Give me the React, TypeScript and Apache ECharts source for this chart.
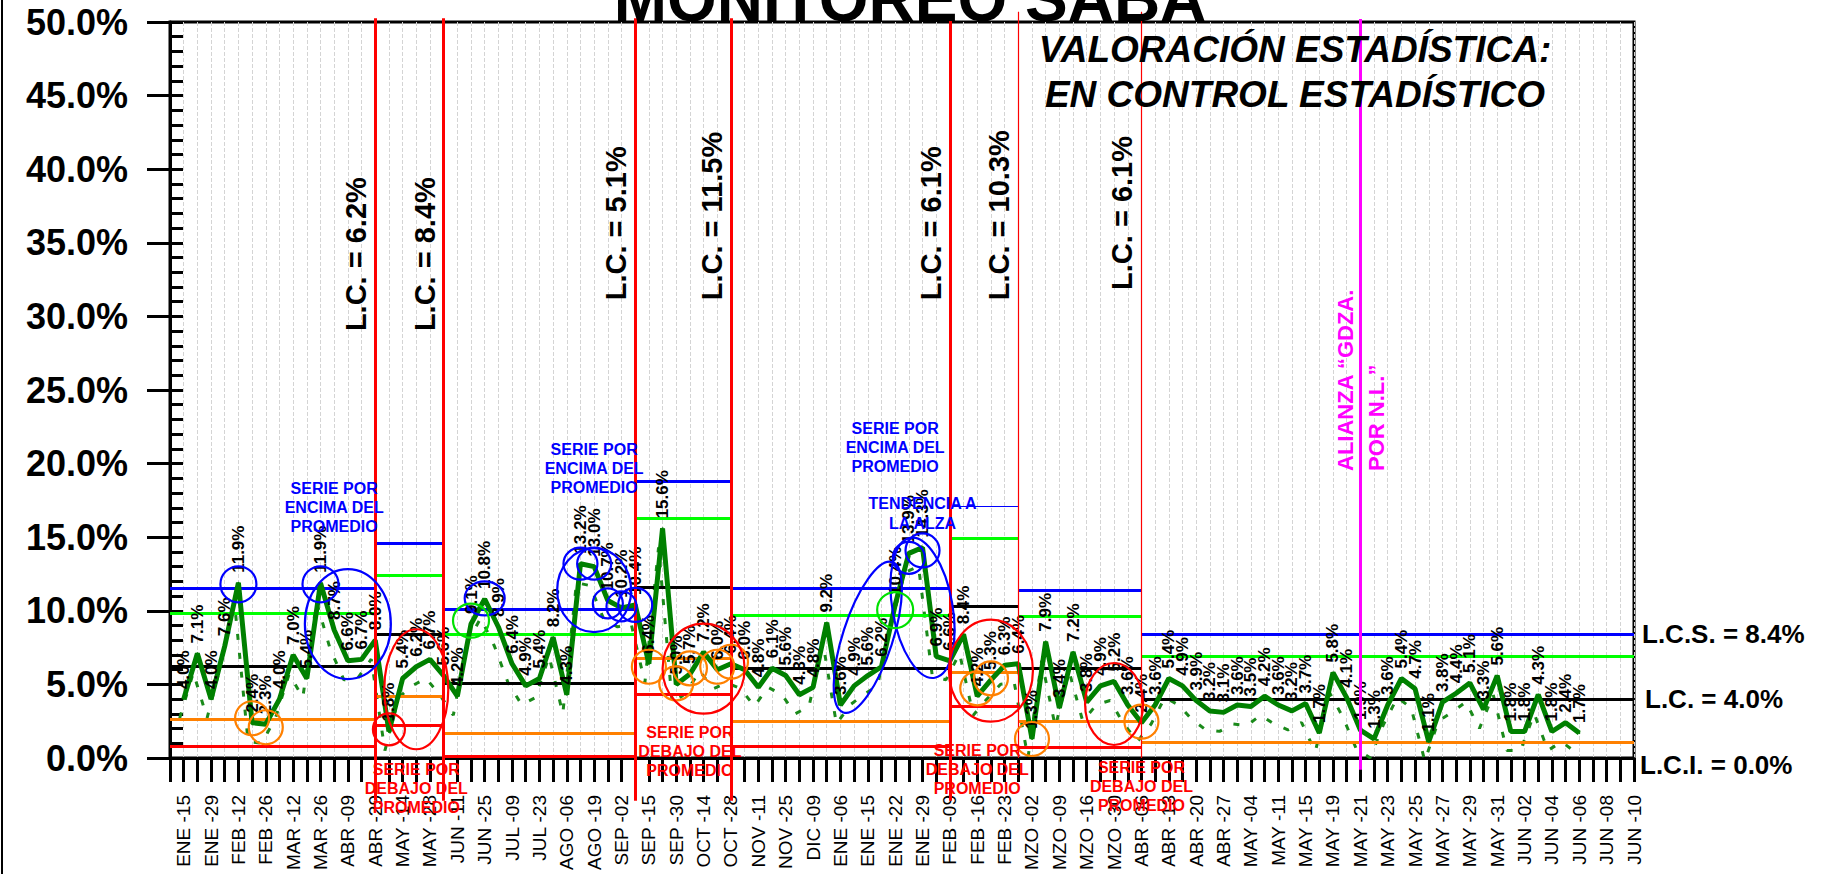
import React, { useEffect, useRef } from 'react';
import * as echarts from 'echarts';

const FONT = '"Liberation Sans", Arial, sans-serif';

// x tick labels (one every other category)
const tickLabels = ['ENE -15','ENE -29','FEB -12','FEB -26','MAR -12','MAR -26','ABR -09','ABR -29','MAY -14','MAY -28','JUN -11','JUN -25','JUL -09','JUL -23','AGO -06','AGO -19','SEP -02','SEP -15','SEP -30','OCT -14','OCT -28','NOV -11','NOV -25','DIC -09','ENE -06','ENE -15','ENE -22','ENE -29','FEB -09','FEB -16','FEB -23','MZO -02','MZO -09','MZO -16','MZO -30','ABR -06','ABR -13','ABR -20','ABR -27','MAY -04','MAY -11','MAY -15','MAY -19','MAY -21','MAY -23','MAY -25','MAY -27','MAY -29','MAY -31','JUN -02','JUN -04','JUN -06','JUN -08','JUN -10'];

// measured values (%), categories 1..103
const sabaValues = [4.0, 7.1, 4.0, 7.6, 11.9, 2.4, 2.3, 4.0, 7.0, 5.4,
  11.9, 8.7, 6.6, 6.7, 8.0, 1.8, 5.4, 6.2, 6.7, 5.6,
  4.2, 9.1, 10.8, 8.9, 6.4, 4.9, 5.4, 8.2, 4.3, 13.2,
  13.0, 10.7, 10.2, 10.4, 6.4, 15.6, 5.0, 5.7, 7.2, 6.0,
  6.4, 6.0, 4.8, 6.1, 5.6, 4.3, 4.8, 9.2, 3.6, 4.9,
  5.6, 6.2, 10.4, 13.9, 14.3, 6.9, 6.6, 8.4, 4.2, 5.3,
  6.3, 6.4, 1.3, 7.9, 3.4, 7.2, 3.8, 4.9, 5.2, 3.6,
  2.4, 3.6, 5.4, 4.9, 3.9, 3.2, 3.1, 3.6, 3.5, 4.2,
  3.6, 3.2, 3.7, 1.7, 5.8, 4.1, 1.9, 1.3, 3.6, 5.4,
  4.7, 1.1, 3.8, 4.4, 5.1, 3.3, 5.6, 1.8, 1.8, 4.3,
  1.8, 2.4, 1.7];

// control-limit segments
const segStart = [0, 15, 20, 34, 41, 57, 62, 71];
const segEnd = [15, 20, 34, 41, 57, 62, 71, 107];
const uclVals = [11.5, 14.6, 10.1, 18.8, 11.5, 17.1, 11.4, 8.4];
const upper2Vals = [9.8, 12.4, 8.4, 16.3, 9.7, 14.9, 9.6, 6.9];
const clVals = [6.2, 8.4, 5.1, 11.6, 6.1, 10.3, 6.1, 4.0];
const lower2Vals = [2.6, 4.2, 1.7, 6.8, 2.5, 5.8, 2.5, 1.1];
const lclVals: (number | null)[] = [0.8, 2.2, 0.1, 4.3, 0.8, 3.5, 0.7, null];
const lcLabels = ['6.2', '8.4', '5.1', '11.5', '6.1', '10.3', '6.1'];
const lcLabelBase = [29.0, 29.0, 31.1, 31.1, 31.1, 31.1, 31.8];
const breakThick = [true, true, true, true, true, false, false];
const alianzaIndex = 87;

// annotation rings: [category, value, rx, ry, tiltDeg]
const blueRings = [[5.1, 11.8, 18, 18, 0], [11.0, 11.8, 18, 18, 0], [13.0, 9.1, 43, 55, 0], [23.0, 10.85, 20, 17, 0],
  [29.75, 13.2, 17, 16, 0], [30.9, 13.2, 17, 16, 0], [31.4, 11.4, 37, 42, 0], [31.7, 10.5, 15, 15, 0],
  [32.8, 10.3, 15, 15, 0], [34.0, 10.4, 17, 17, 0], [51.2, 8.2, 25, 79, -18], [55.2, 10.2, 30, 71, 10],
  [54.0, 13.6, 16, 16, 0], [55.4, 14.1, 17, 17, 0]];
const greenRings = [[21.63, 9.33, 18, 17, 0], [53.0, 10.05, 18, 18, 0]];
const orangeRings = [[6.09, 2.7, 17, 17, 0], [6.53, 2.09, 17, 17, 0], [35.45, 6.2, 17, 17, 0], [37.03, 5.07, 17, 17, 0],
  [38.13, 6.09, 17, 17, 0], [40.07, 6.2, 17, 17, 0], [41.3, 6.54, 17, 17, 0], [59.08, 4.73, 17, 17, 0],
  [59.93, 5.41, 17, 17, 0], [62.73, 1.29, 17, 17, 0], [70.9, 2.47, 17, 17, 0]];
const redRings = [[15.88, 1.95, 16, 16, 0], [18.44, 4.67, 32, 60, 0], [38.88, 6.07, 41, 45, 0], [59.74, 5.93, 42, 51, 0], [69.49, 3.67, 29, 41, 0]];

const aboveNotes = [[11.62, 17.05], [30.7, 19.7], [53.35, 21.06]];
const trendNote = [55.25, 16.64];
const belowNotes = [[18.13, -2.1], [38.08, 0.41], [59.35, -0.75], [70.53, -1.97]];

const categories: string[] = [];
for (let i = 0; i < 108; i++) categories.push(i % 2 === 1 ? tickLabels[(i - 1) / 2] : '');
const seriesData: (number | null)[] = [null, ...sabaValues, null, null, null, null];

const BLUE = '#0000ff', GREEN = '#00ff00', ORANGE = '#ff8000', RED = '#ff0000', DKGREEN = '#008000';

export default function App() {
  const ref = useRef<HTMLDivElement>(null);
  useEffect(() => {
    const chart = echarts.init(ref.current!, undefined, { renderer: 'svg' });

    const controlLines: any[] = [];
    const addSeg = (vals: (number | null)[], color: string, width: (k: number) => number) => {
      vals.forEach((v, k) => {
        if (v == null) return;
        controlLines.push({ coords: [[segStart[k], v], [segEnd[k], v]], lineStyle: { color, width: width(k), opacity: 1, curveness: 0 } });
      });
    };
    addSeg(lclVals, RED, () => 3);
    addSeg(lower2Vals, ORANGE, () => 3);
    addSeg(clVals, '#000', () => 3);
    addSeg(upper2Vals, GREEN, () => 3);
    addSeg(uclVals, BLUE, (k) => (k === 5 ? 1 : 3));

    const verticals: any[] = [];
    segEnd.slice(0, 7).forEach((b, k) => {
      verticals.push({ coords: [[b, breakThick[k] ? 50.25 : 50.7], [b, breakThick[k] ? -2.9 : 0]], lineStyle: { color: RED, width: breakThick[k] ? 3 : 1.2, opacity: 1 } });
    });
    verticals.push({ coords: [[alianzaIndex, 50.2], [alianzaIndex, -0.8]], lineStyle: { color: '#ff00ff', width: 3, opacity: 1 } });

    chart.setOption({
      animation: false,
      textStyle: { fontFamily: FONT },
      grid: [
        { left: 170, right: 188, top: 22, bottom: 116, show: true, borderColor: '#000', borderWidth: 3, backgroundColor: 'transparent' },
        { left: 166, right: 192, top: 41, bottom: 97, show: false },
      ],
      xAxis: [
        {
          type: 'category', gridIndex: 0, data: categories, boundaryGap: false,
          axisLine: { lineStyle: { color: '#000', width: 3 } },
          axisTick: { show: true, interval: 0, length: 24, lineStyle: { color: '#000', width: 3 } },
          axisLabel: { interval: 0, rotate: 90, fontSize: 19, color: '#000', margin: 37, fontFamily: FONT },
          splitLine: { show: true, interval: 0, lineStyle: { color: '#d4d4d4', type: 'dashed', width: 1 } },
        },
        { type: 'category', gridIndex: 1, data: categories, boundaryGap: false, show: false },
      ],
      yAxis: [
        {
          type: 'value', gridIndex: 0, min: 0, max: 50, interval: 5,
          axisLine: { show: true, lineStyle: { color: '#000', width: 3 } },
          axisTick: { show: true, length: 23, lineStyle: { color: '#000', width: 3 } },
          axisLabel: { formatter: (v: number) => v.toFixed(1) + '%', fontSize: 36, fontWeight: 'bold', color: '#000', margin: 42, fontFamily: FONT },
          splitLine: { show: false },
        },
        {
          type: 'value', gridIndex: 0, min: 0, max: 50, interval: 1, position: 'left',
          axisLine: { show: false },
          axisTick: { show: true, inside: true, length: 13, lineStyle: { color: '#000', width: 3 } },
          axisLabel: { show: false }, splitLine: { show: false },
        },
        { type: 'value', gridIndex: 1, min: 0, max: 50, show: false },
      ],
      series: [
        {
          type: 'line', xAxisIndex: 1, yAxisIndex: 2, data: seriesData, symbol: 'none', silent: true, z: 1,
          lineStyle: { color: '#1a8a1a', width: 3, type: [6, 13] },
        },
        {
          type: 'lines', coordinateSystem: 'cartesian2d', xAxisIndex: 0, yAxisIndex: 0, polyline: false, clip: false,
          silent: true, z: 2, data: controlLines,
        },
        {
          type: 'line', xAxisIndex: 0, yAxisIndex: 0, data: seriesData, symbol: 'circle', symbolSize: 2, z: 4,
          itemStyle: { color: DKGREEN }, lineStyle: { color: DKGREEN, width: 5 },
          label: {
            show: true, position: 'top', distance: 9, rotate: 90, align: 'left', verticalAlign: 'middle',
            fontSize: 17, fontWeight: 'bold', color: '#000', fontFamily: FONT,
            formatter: (p: any) => (p.value == null ? '' : Number(p.value).toFixed(1) + '%'),
          },
        },
        {
          type: 'lines', coordinateSystem: 'cartesian2d', xAxisIndex: 0, yAxisIndex: 0, polyline: false, clip: false,
          silent: true, z: 6, data: verticals,
        },
      ],
    });

    const toPx = (i: number, v: number) => chart.convertToPixel({ xAxisIndex: 0, yAxisIndex: 0 }, [i, v]) as number[];
    const rings = (arr: number[][], color: string) => arr.map(([i, v, rx, ry, deg]) => {
      const [x, y] = toPx(i, v);
      return { type: 'ellipse', x, y, rotation: (deg * Math.PI) / 180, silent: true, z: 20, shape: { cx: 0, cy: 0, rx, ry }, style: { fill: 'none', stroke: color, lineWidth: 2.2 } };
    });
    const text = (x: number, y: number, t: string, o: any) => ({
      type: 'text', x, y, rotation: o.rotation || 0, silent: true, z: 30,
      style: {
        text: t, fill: o.color || '#000', fontSize: o.size, fontWeight: o.weight || 'bold', fontStyle: o.style || 'normal', fontFamily: FONT,
        align: o.align || 'center', verticalAlign: o.valign || 'middle', textAlign: o.align || 'center', textVerticalAlign: o.valign || 'middle',
        lineHeight: o.lineHeight,
      },
    });

    const elements: any[] = [];
    elements.push({ type: 'line', silent: true, z: 30, shape: { x1: 2, y1: 0, x2: 2, y2: 874 }, style: { stroke: '#000', lineWidth: 2 } });
    elements.push(...rings(blueRings, BLUE), ...rings(greenRings, '#00e000'), ...rings(orangeRings, ORANGE), ...rings(redRings, RED));

    aboveNotes.forEach(([i, v]) => { const [x, y] = toPx(i, v); elements.push(text(x, y, 'SERIE POR\nENCIMA DEL\nPROMEDIO', { size: 16, color: BLUE, lineHeight: 19 })); });
    { const [x, y] = toPx(trendNote[0], trendNote[1]); elements.push(text(x, y, 'TENDENCIA A\nLA ALZA', { size: 16, color: BLUE, lineHeight: 20 })); }
    belowNotes.forEach(([i, v]) => { const [x, y] = toPx(i, v); elements.push(text(x, y, 'SERIE POR\nDEBAJO DEL\nPROMEDIO', { size: 16, color: RED, lineHeight: 19 })); });

    segEnd.slice(0, 7).forEach((b, k) => {
      const [x] = toPx(b, 0);
      const [, y] = toPx(b, lcLabelBase[k]);
      elements.push(text(x - 19, y, 'L.C. = ' + lcLabels[k] + '%', { size: 29, rotation: Math.PI / 2, align: 'left' }));
    });

    {
      const [x] = toPx(alianzaIndex, 0);
      const [, y] = toPx(alianzaIndex, 19.5);
      elements.push(text(x - 15, y, 'ALIANZA \u201CGDZA.', { size: 22, color: '#ff00ff', rotation: Math.PI / 2, align: 'left' }));
      elements.push(text(x + 16, y, 'POR N.L.\u201D', { size: 22, color: '#ff00ff', rotation: Math.PI / 2, align: 'left' }));
    }

    const last = uclVals.length - 1;
    { const [, y] = toPx(107, uclVals[last]); elements.push(text(1642, y, 'L.C.S. = ' + uclVals[last].toFixed(1) + '%', { size: 26, align: 'left' })); }
    { const [, y] = toPx(107, clVals[last]); elements.push(text(1645, y, 'L.C. = ' + clVals[last].toFixed(1) + '%', { size: 26, align: 'left' })); }
    { const [, y] = toPx(107, 0); elements.push(text(1640, y + 7, 'L.C.I. = 0.0%', { size: 26, align: 'left' })); }

    elements.push(text(910, -1, 'MONITOREO SABA', { size: 64 }));
    elements.push(text(1295, 49, 'VALORACIÓN ESTADÍSTICA:', { size: 37, style: 'italic' }));
    elements.push(text(1295, 94, 'EN CONTROL ESTADÍSTICO', { size: 37, style: 'italic' }));

    chart.setOption({ graphic: { elements } });
    return () => chart.dispose();
  }, []);
  return <div ref={ref} style={{ position: 'fixed', left: 0, top: 0, width: 1822, height: 874, background: '#fff' }} />;
}
